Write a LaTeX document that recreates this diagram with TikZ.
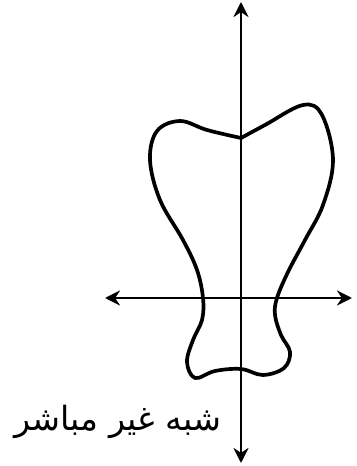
\documentclass[tikz,border=0pt]{standalone}
\usepackage{fontspec}
\TeXXeTstate=1
\newfontfamily\arabicfont[Script=Arabic]{DejaVu Sans}
\usetikzlibrary{arrows.meta,positioning}
\begin{document}
\begin{tikzpicture}[x=0.02cm,y=0.02cm,>={Stealth[length=0.3cm,width=0.3cm]}]
\tikzstyle{axis}=[line width=1.6pt,<->]
\tikzstyle{outline}=[line width=2.1pt,line join=round]
\useasboundingbox (-241,-168) rectangle (115,298);
% axes
\coordinate (xleft) at (-136,0);
\coordinate (xright) at (111,0);
\coordinate (ybottom) at (0,-165);
\coordinate (ytop) at (0,296);
\draw[axis] (xleft) -- (xright);
\draw[axis] (ybottom) -- (ytop);
% closed curve, cusp at the top dip
\draw[outline] plot[smooth,tension=0.6] coordinates {
 (0,160) (24,173) (62,193) (81,183) (92,138) (82,93) (64,58) (47,26)
 (36,0) (34,-17) (40,-37) (49,-54) (43,-70) (22,-77) (0,-71)
 (-26,-73) (-46,-80) (-54,-64) (-48,-42) (-39,-22) (-38,0) (-44,28)
 (-58,58) (-81,98) (-91,138) (-84,167) (-61,177) (-34,168) (0,160)};
\node[font=\arabicfont\fontsize{19}{22}\selectfont] (label) at (-123,-124) {\beginR شبه غير مباشر\endR};
\end{tikzpicture}
\end{document}
